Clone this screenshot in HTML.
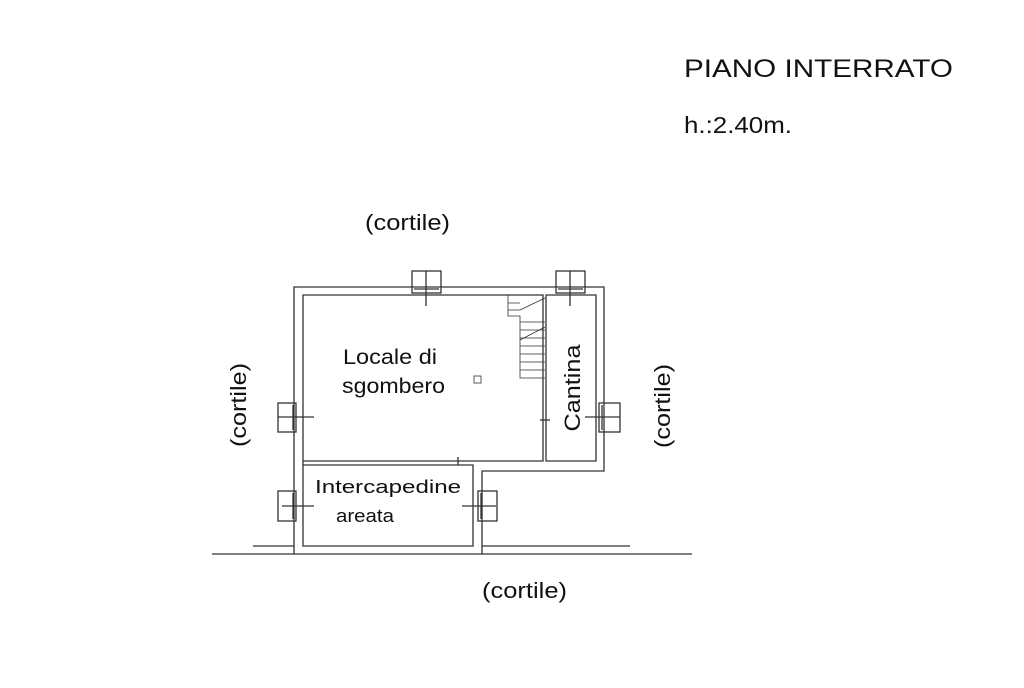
<!DOCTYPE html><html><head><style>body{margin:0;background:#fff}svg text{font-family:"Liberation Sans",sans-serif;fill:#111}</style></head><body>
<svg width="1024" height="683" viewBox="0 0 1024 683" xmlns="http://www.w3.org/2000/svg">
<g fill="none" stroke="#333" stroke-width="1.3">
<path d="M294,554 V287 H604 V471 H482 V554"/>
<path d="M303,546 V465 H473 V546 Z"/>
<path d="M303,465 V295 H543 V461 H303"/>
<path d="M546,295 H596 V461 H546 Z"/>
<path d="M212,554 H692 M253,546 H294 M482,546 H630"/>
<rect x="412" y="271" width="29" height="22"/><line x1="414" y1="289" x2="439" y2="289"/><line x1="426" y1="271" x2="426" y2="306"/>
<rect x="556" y="271" width="29" height="22"/><line x1="558" y1="289" x2="583" y2="289"/><line x1="570" y1="271" x2="570" y2="306"/>
<rect x="278" y="403" width="18" height="29"/><line x1="293" y1="405" x2="293" y2="430"/><line x1="278" y1="417" x2="314" y2="417"/>
<rect x="278" y="491" width="18" height="30"/><line x1="293" y1="493" x2="293" y2="519"/><line x1="282" y1="506" x2="314" y2="506"/>
<rect x="599" y="403" width="21" height="29"/><line x1="602" y1="405" x2="602" y2="430"/><line x1="585" y1="417" x2="620" y2="417"/>
<rect x="478" y="491" width="19" height="30"/><line x1="481" y1="493" x2="481" y2="519"/><line x1="462" y1="506" x2="496" y2="506"/>
<g stroke-width="0.8"><path d="M508,295 V316 H520 V378 H545"/>
<path d="M520,330 H545 M520,338 H545 M520,346 H545 M520,354 H545 M520,362 H545 M520,370 H545 M508,303 H520 M508,310 H520 M520,322 H545"/>
<path d="M520,340 L545,327 M520,310 L545,298"/></g>
<line x1="540" y1="420" x2="550" y2="420"/><line x1="458" y1="457" x2="458" y2="465"/>
<rect x="474" y="376" width="7" height="7" stroke-width="0.8"/>
</g>
<g font-size="24" lengthAdjust="spacingAndGlyphs">
<text x="684" y="77" font-size="25" textLength="269" lengthAdjust="spacingAndGlyphs">PIANO  INTERRATO</text>
<text x="684" y="133" font-size="23" textLength="108" lengthAdjust="spacingAndGlyphs">h.:2.40m.</text>
<text x="365" y="230" font-size="22" textLength="85" lengthAdjust="spacingAndGlyphs">(cortile)</text>
<text x="482" y="598" font-size="22" textLength="85" lengthAdjust="spacingAndGlyphs">(cortile)</text>
<text transform="translate(246,405) rotate(-90)" font-size="22" text-anchor="middle" textLength="84" lengthAdjust="spacingAndGlyphs">(cortile)</text>
<text transform="translate(670,406) rotate(-90)" font-size="22" text-anchor="middle" textLength="84" lengthAdjust="spacingAndGlyphs">(cortile)</text>
<text x="343" y="364" font-size="21" textLength="94" lengthAdjust="spacingAndGlyphs">Locale di</text>
<text x="342" y="393" font-size="21" textLength="103" lengthAdjust="spacingAndGlyphs">sgombero</text>
<text transform="translate(580,388) rotate(-90)" font-size="22" text-anchor="middle" textLength="87" lengthAdjust="spacingAndGlyphs">Cantina</text>
<text x="315" y="493" font-size="18" textLength="146" lengthAdjust="spacingAndGlyphs">Intercapedine</text>
<text x="336" y="522" font-size="18" textLength="58" lengthAdjust="spacingAndGlyphs">areata</text>
</g>
</svg></body></html>
